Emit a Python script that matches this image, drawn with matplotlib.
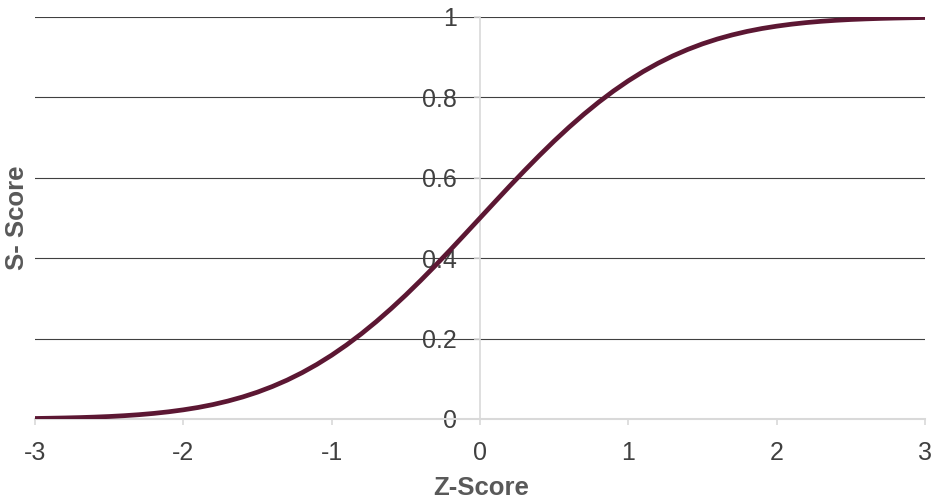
import matplotlib.pyplot as plt

# values
z_score = [-3.0, -2.9, -2.8, -2.7, -2.6, -2.5, -2.4, -2.3, -2.2, -2.1,
           -2.0, -1.9, -1.8, -1.7, -1.6, -1.5, -1.4, -1.3, -1.2, -1.1,
           -1.0, -0.9, -0.8, -0.7, -0.6, -0.5, -0.4, -0.3, -0.2, -0.1,
           0.0, 0.1, 0.2, 0.3, 0.4, 0.5, 0.6, 0.7, 0.8, 0.9,
           1.0, 1.1, 1.2, 1.3, 1.4, 1.5, 1.6, 1.7, 1.8, 1.9,
           2.0, 2.1, 2.2, 2.3, 2.4, 2.5, 2.6, 2.7, 2.8, 2.9, 3.0]
s_score = [0.0013, 0.0019, 0.0026, 0.0035, 0.0047, 0.0062, 0.0082, 0.0107, 0.0139, 0.0179,
           0.0228, 0.0287, 0.0359, 0.0446, 0.0548, 0.0668, 0.0808, 0.0968, 0.1151, 0.1357,
           0.1587, 0.1841, 0.2119, 0.2420, 0.2743, 0.3085, 0.3446, 0.3821, 0.4207, 0.4602,
           0.5000, 0.5398, 0.5793, 0.6179, 0.6554, 0.6915, 0.7257, 0.7580, 0.7881, 0.8159,
           0.8413, 0.8643, 0.8849, 0.9032, 0.9192, 0.9332, 0.9452, 0.9554, 0.9641, 0.9713,
           0.9772, 0.9821, 0.9861, 0.9893, 0.9918, 0.9938, 0.9953, 0.9965, 0.9974, 0.9981, 0.9987]

x_ticks = [-3, -2, -1, 0, 1, 2, 3]
y_ticks = [0, 0.2, 0.4, 0.6, 0.8, 1]
y_tick_labels = ['0', '0.2', '0.4', '0.6', '0.8', '1']

plt.rcParams['font.family'] = ['Liberation Sans', 'DejaVu Sans']

W, H = 934, 501
fig = plt.figure(figsize=(W / 100, H / 100), dpi=100)
ax = fig.add_axes([35 / W, (H - 419) / H, (925 - 35) / W, (419 - 17) / H])

ax.set_xlim(-3, 3)
ax.set_ylim(0, 1)

# horizontal gridlines (not at 0, where the axis line sits)
for y in y_ticks[1:]:
    ax.axhline(y, color='#404040', lw=0.8, zorder=1)

ax.plot(z_score, s_score, color='#5c1733', lw=3.4, solid_joinstyle='round',
        solid_capstyle='butt', zorder=3)

for s in ['top', 'right']:
    ax.spines[s].set_visible(False)
ax.spines['left'].set_position(('data', 0))
ax.spines['left'].set_color('#d9d9d9')
ax.spines['left'].set_linewidth(1.2)
ax.spines['left'].set_zorder(2)
ax.spines['bottom'].set_color('#d9d9d9')
ax.spines['bottom'].set_linewidth(1.5)

ax.set_xticks(x_ticks)
ax.set_xticklabels([str(v) for v in x_ticks])
ax.set_yticks(y_ticks)
ax.set_yticklabels(y_tick_labels)

ax.tick_params(axis='x', length=4, width=1.2, color='#d9d9d9', pad=12,
               labelsize=18, labelcolor='#404040')
ax.tick_params(axis='y', length=4.5, width=1.2, color='#d9d9d9', pad=12,
               labelsize=18, labelcolor='#404040')
for t in ax.get_yticklabels():
    t.set_zorder(4)

fig.text(481 / W, 1 - 488 / H, 'Z-Score', ha='center', va='center',
         fontsize=18.5, fontweight='bold', color='#595959')
fig.text(17 / W, 1 - 218 / H, 'S- Score', ha='center', va='center', rotation=90,
         fontsize=18.5, fontweight='bold', color='#595959')

fig.savefig('out.png', dpi=100)
